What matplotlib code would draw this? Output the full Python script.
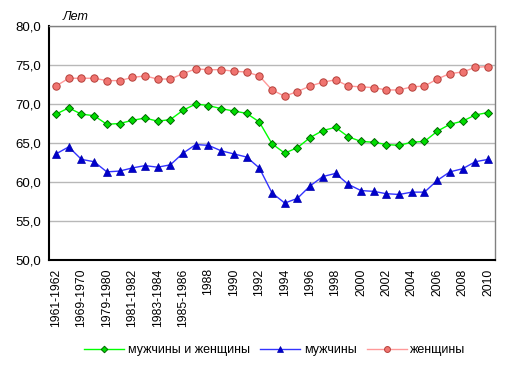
import matplotlib.pyplot as plt
import numpy as np

plt.rcParams['font.family'] = ['Liberation Sans', 'DejaVu Sans']

# periods (every other one is labelled on the axis)
periods = ['1961-1962', '1966-1967', '1969-1970', '1970-1971', '1979-1980',
           '1980-1981', '1981-1982', '1982-1983', '1983-1984', '1984-1985',
           '1985-1986'] + [str(y) for y in range(1987, 2011)]

both = [68.7, 69.5, 68.7, 68.5, 67.4, 67.5, 67.9, 68.2, 67.8, 68.0,
        69.2, 70.0, 69.8, 69.4, 69.1, 68.8, 67.7, 64.9, 63.7, 64.4,
        65.7, 66.6, 67.0, 65.8, 65.2, 65.1, 64.8, 64.7, 65.1, 65.2,
        66.5, 67.4, 67.8, 68.6, 68.9]
men = [63.6, 64.5, 62.9, 62.6, 61.3, 61.4, 61.8, 62.1, 61.9, 62.2,
       63.7, 64.8, 64.7, 64.0, 63.6, 63.2, 61.8, 58.6, 57.3, 57.9,
       59.5, 60.7, 61.1, 59.7, 58.9, 58.8, 58.5, 58.4, 58.7, 58.7,
       60.2, 61.3, 61.7, 62.6, 62.9]
women = [72.3, 73.3, 73.3, 73.3, 73.0, 73.0, 73.4, 73.6, 73.2, 73.2,
         73.9, 74.5, 74.4, 74.4, 74.2, 74.1, 73.6, 71.8, 71.0, 71.6,
         72.3, 72.8, 73.1, 72.3, 72.2, 72.1, 71.8, 71.8, 72.2, 72.3,
         73.2, 73.9, 74.1, 74.7, 74.8]

x = np.arange(len(periods))

fig = plt.figure(figsize=(5.11, 3.73), dpi=100)
ax = fig.add_axes([49 / 511, 1 - 260 / 373, 446 / 511, 234 / 373])

ax.plot(x, both, color='#00ff00', lw=1, marker='D', ms=4.2,
        mfc='#00dd00', mec='#006600', mew=0.7, label='мужчины и женщины', zorder=3)
ax.plot(x, men, color='#3333ff', lw=1, marker='^', ms=6,
        mfc='#0000cc', mec='#0000aa', mew=0.5, label='мужчины', zorder=3)
ax.plot(x, women, color='#ff9999', lw=1, marker='o', ms=5.3,
        mfc='#f07470', mec='#b5403a', mew=0.7, label='женщины', zorder=3)

ax.set_xlim(-0.55, len(periods) - 0.45)
ax.set_ylim(50, 80)
ax.set_yticks(np.arange(50, 81, 5))
ax.set_yticklabels([f'{v:.1f}'.replace('.', ',') for v in np.arange(50, 81, 5)], fontsize=9.5)
ax.set_xticks(x[::2])
ax.set_xticklabels(periods[::2], rotation=90, fontsize=8.7)
ax.tick_params(length=0, pad=6)
ax.grid(axis='y', color='#b8b8b8', lw=1)
ax.set_axisbelow(True)

for s in ['top', 'right']:
    ax.spines[s].set_color('#808080')
    ax.spines[s].set_linewidth(1)
for s in ['left', 'bottom']:
    ax.spines[s].set_color('black')
    ax.spines[s].set_linewidth(1.5)

fig.text(63 / 511, 1 - 17 / 373, 'Лет', fontsize=9, style='italic', va='center')

fig.legend(loc='center', bbox_to_anchor=(275 / 511, 1 - 350 / 373), ncol=3,
           frameon=False, fontsize=9, handlelength=3.2, handletextpad=0.3,
           columnspacing=0.8, markerscale=0.8)

fig.savefig('out.png', dpi=100)
